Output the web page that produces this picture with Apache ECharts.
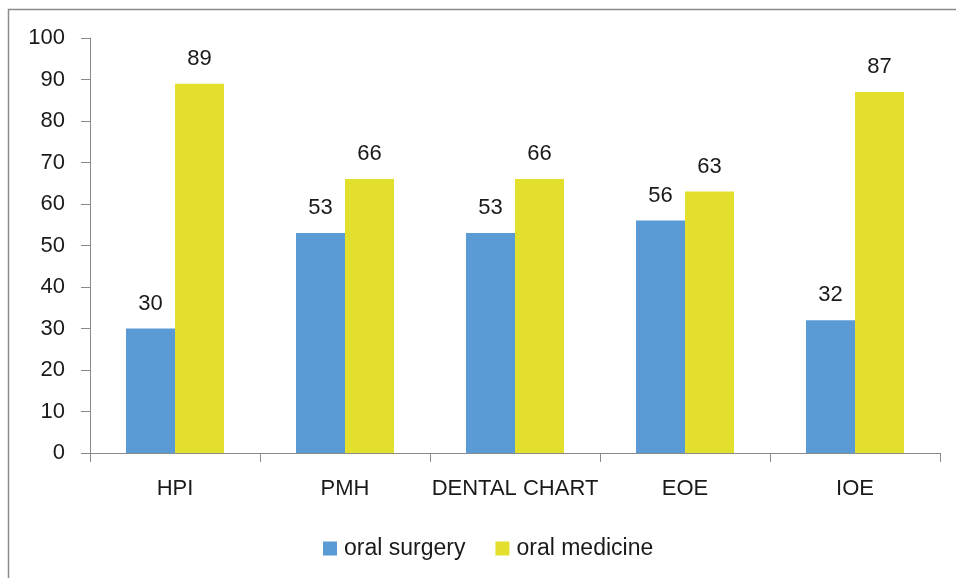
<!DOCTYPE html>
<html>
<head>
<meta charset="utf-8">
<script src="https://cdn.jsdelivr.net/npm/echarts@6/dist/echarts.min.js"></script>
<style>
html,body{margin:0;padding:0;background:#fff;}
#chart{width:956px;height:578px;}
</style>
</head>
<body>
<div id="chart"></div>
<script>
var categories = ['HPI', 'PMH', 'DENTAL CHART', 'EOE', 'IOE'];
var oralSurgery = [30, 53, 53, 56, 32];
var oralMedicine = [89, 66, 66, 63, 87];
var yTicks = [0, 10, 20, 30, 40, 50, 60, 70, 80, 90, 100];

var FONT = 'Liberation Sans';
var chart = echarts.init(document.getElementById('chart'), null, {renderer: 'canvas'});
var labelStyle = {show: true, position: 'top', distance: 14, color: '#1a1a1a', fontSize: 22, fontFamily: FONT};
chart.setOption({
  animation: false,
  backgroundColor: '#fff',
  graphic: [{
    type: 'rect', silent: true,
    shape: {x: 8.5, y: 9.5, width: 1000, height: 1000},
    style: {fill: 'none', stroke: '#8a8a8a', lineWidth: 1.5}
  }],
  grid: {left: 90, right: 16, top: 38, bottom: 125, containLabel: false},
  legend: {
    data: ['oral surgery', 'oral medicine'],
    left: 318, top: 532,
    itemWidth: 14, itemHeight: 14, itemGap: 30,
    icon: 'rect',
    textStyle: {fontSize: 23, fontFamily: FONT, color: '#1a1a1a', padding: [0, 0, 0, 2]}
  },
  xAxis: {
    type: 'category',
    data: categories,
    axisLine: {lineStyle: {color: '#8a8a8a', width: 1}},
    axisTick: {show: true, alignWithLabel: false, length: 9, lineStyle: {color: '#8a8a8a'}},
    axisLabel: {interval: 0, color: '#1a1a1a', fontSize: 22, fontFamily: FONT, margin: 25},
    splitLine: {show: false}
  },
  yAxis: {
    type: 'value',
    min: yTicks[0], max: yTicks[yTicks.length - 1], interval: 10,
    axisLine: {show: true, lineStyle: {color: '#8a8a8a', width: 1}},
    axisTick: {show: true, length: 9, lineStyle: {color: '#8a8a8a'}},
    axisLabel: {color: '#1a1a1a', fontSize: 22, fontFamily: FONT, margin: 25},
    splitLine: {show: false}
  },
  series: [{
    name: 'oral surgery', type: 'bar', data: oralSurgery,
    barWidth: 49, barGap: '0%',
    itemStyle: {color: '#5B9BD5'},
    label: labelStyle
  }, {
    name: 'oral medicine', type: 'bar', data: oralMedicine,
    barWidth: 49, barGap: '0%',
    itemStyle: {color: '#E2E02D'},
    label: labelStyle
  }]
});
</script>
</body>
</html>
